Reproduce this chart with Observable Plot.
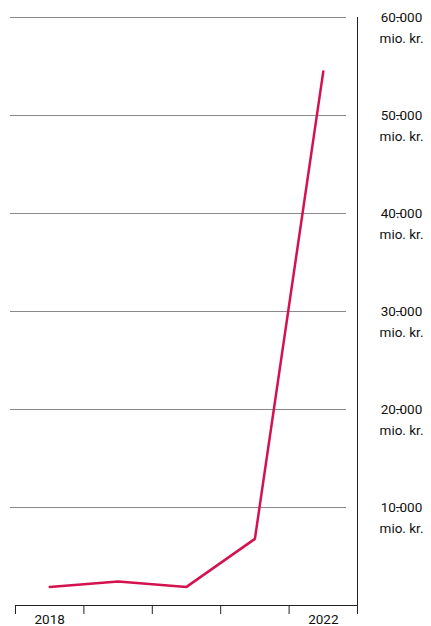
<!DOCTYPE html>
<html>
<head>
<meta charset="utf-8">
<script src="https://cdn.jsdelivr.net/npm/d3@7"></script>
<script src="https://cdn.jsdelivr.net/npm/@observablehq/plot@0.6"></script>
<style>
  html, body { margin: 0; padding: 0; background: #fff; }
  #chart svg { display: block; }
</style>
</head>
<body>
<div id="chart"></div>
<script>
const years = [2018, 2019, 2020, 2021, 2022];
const values = [1900, 2450, 1900, 6800, 54500];
const yTicks = [10000, 20000, 30000, 40000, 50000, 60000];
const xLabelYears = [2018, 2022];
const yUnit = "mio. kr.";

const data = years.map((year, i) => ({year, value: values[i]}));
const fmt = d => d3.format(",")(d).replace(/,/g, ".");
const boundaries = d3.range(years[0] - 0.5, years[years.length - 1] + 1, 1);

const font = "Roboto, sans-serif";

const chart = Plot.plot({
  width: 431,
  height: 626,
  marginTop: 17,
  marginBottom: 21,
  marginLeft: 15,
  marginRight: 74,
  style: {fontFamily: font, fontSize: "13.5px", color: "#111", background: "#fff"},
  x: {domain: [years[0] - 0.5, years[years.length - 1] + 0.5], axis: null},
  y: {domain: [0, 60000], axis: null},
  marks: [
    Plot.ruleY(yTicks, {stroke: "#8a8a8a", strokeWidth: 1, insetLeft: -5, insetRight: 11}),
    Plot.ruleY([0], {stroke: "#222", strokeWidth: 1}),
    Plot.ruleX([years[years.length - 1] + 0.5], {stroke: "#222", strokeWidth: 1}),
    Plot.axisX({ticks: boundaries, tickSize: 9, tickFormat: () => "", label: null, stroke: "#222"}),
    Plot.axisX({ticks: xLabelYears, tickSize: 0, tickPadding: 9, tickFormat: d => String(d), label: null, fontSize: 13.5, fill: "#111"}),
    Plot.axisY({anchor: "right", ticks: yTicks, tickSize: 6, stroke: "#222", tickFormat: fmt, label: null, textAnchor: "middle", dx: 38, tickPadding: 0, fontSize: 13.5, fill: "#111"}),
    Plot.axisY({anchor: "right", ticks: yTicks, tickSize: 0, tickFormat: () => yUnit, label: null, textAnchor: "middle", dx: 44, dy: 21, tickPadding: 0, fontSize: 13.5, fill: "#111"}),
    Plot.line(data, {x: "year", y: "value", stroke: "#d3124f", strokeWidth: 2.5, strokeLinejoin: "miter"})
  ]
});
document.getElementById("chart").appendChild(chart);
</script>
</body>
</html>
